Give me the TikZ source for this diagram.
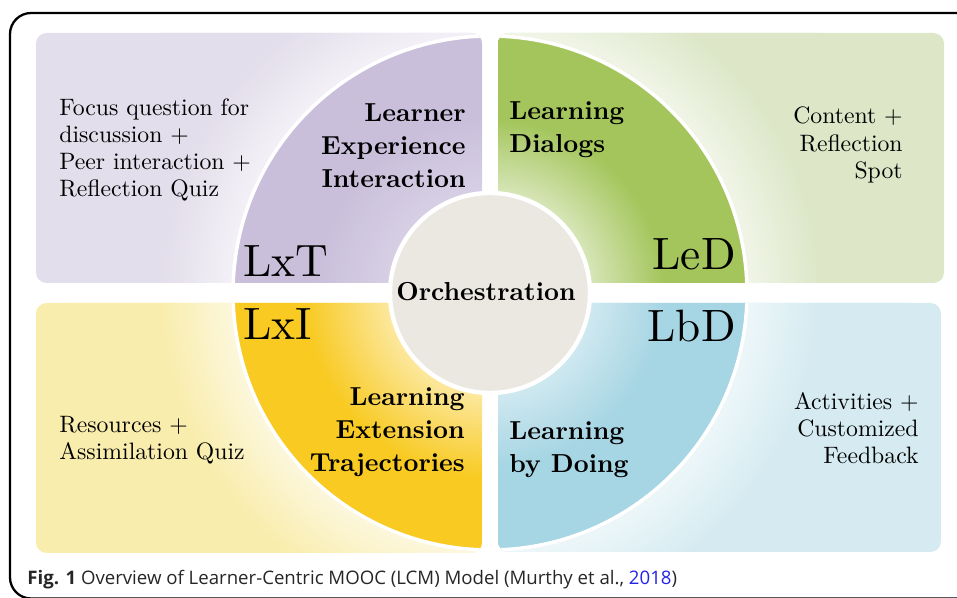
\documentclass[tikz,border=0pt]{standalone}
\usepackage{fontspec}
\setmainfont{lmroman10-regular.otf}[BoldFont=lmroman10-bold.otf]
\newfontfamily\capfont{Open Sans}
\definecolor{lxtpanel}{HTML}{E3DEEB}
\definecolor{lxtring}{HTML}{C9BFDB}
\definecolor{ledpanel}{HTML}{DDE7C8}
\definecolor{ledring}{HTML}{A3C55B}
\definecolor{lxipanel}{HTML}{F9EDAE}
\definecolor{lxiring}{HTML}{F8CA22}
\definecolor{lbdpanel}{HTML}{D5EBF1}
\definecolor{lbdring}{HTML}{A6D5E3}
\definecolor{orchfill}{HTML}{EBE8E2}
\definecolor{reflink}{HTML}{2424E8}
\pgfdeclareradialshading{lxtshade}{\pgfpoint{0bp}{0bp}}{color(0bp)=(lxtring!70!white); color(10bp)=(lxtring!75!white); color(17bp)=(lxtring); color(25bp)=(lxtring); color(50bp)=(lxtring)}
\pgfdeclareradialshading{ledshade}{\pgfpoint{0bp}{0bp}}{color(0bp)=(ledring!40!white); color(10bp)=(ledring!45!white); color(17bp)=(ledring); color(25bp)=(ledring); color(50bp)=(ledring)}
\pgfdeclareradialshading{lxishade}{\pgfpoint{0bp}{0bp}}{color(0bp)=(lxiring!40!white); color(10bp)=(lxiring!45!white); color(18bp)=(lxiring); color(25bp)=(lxiring); color(50bp)=(lxiring)}
\pgfdeclareradialshading{lbdshade}{\pgfpoint{0bp}{0bp}}{color(0bp)=(lbdring!50!white); color(10bp)=(lbdring!55!white); color(17bp)=(lbdring); color(25bp)=(lbdring); color(50bp)=(lbdring)}
\pgfdeclareradialshading{lxtglow}{\pgfpoint{0bp}{0bp}}{color(0bp)=(lxtpanel!40!white); color(15.5bp)=(lxtpanel!45!white); color(19.5bp)=(lxtpanel); color(25bp)=(lxtpanel); color(50bp)=(lxtpanel)}
\pgfdeclareradialshading{ledglow}{\pgfpoint{0bp}{0bp}}{color(0bp)=(ledpanel!40!white); color(15.5bp)=(ledpanel!45!white); color(19.5bp)=(ledpanel); color(25bp)=(ledpanel); color(50bp)=(ledpanel)}
\pgfdeclareradialshading{lxiglow}{\pgfpoint{0bp}{0bp}}{color(0bp)=(lxipanel!40!white); color(15.5bp)=(lxipanel!45!white); color(19.5bp)=(lxipanel); color(25bp)=(lxipanel); color(50bp)=(lxipanel)}
\pgfdeclareradialshading{lbdglow}{\pgfpoint{0bp}{0bp}}{color(0bp)=(lbdpanel!40!white); color(15.5bp)=(lbdpanel!45!white); color(19.5bp)=(lbdpanel); color(25bp)=(lbdpanel); color(50bp)=(lbdpanel)}
\begin{document}
\begin{tikzpicture}[x=0.02cm,y=0.02cm,
  body/.style={font=\fontsize{13.5}{15.4}\selectfont, inner sep=0pt},
  title/.style={font=\fontsize{14.8}{18.8}\selectfont\bfseries, inner sep=0pt},
  tag/.style={font=\fontsize{25.8}{28}\selectfont, inner sep=0pt},
  panel/.style={rounded corners=6}]
\useasboundingbox (0,0) rectangle (957,598);
\clip (0,0) rectangle (957,598);
\draw[line width=1.3, rounded corners=12] (10,-0.5) rectangle (990,585);

\coordinate (c) at (490,305);

\fill[lxtpanel, panel] (36,315) rectangle (482,565);
\begin{scope}
\clip[panel] (36,315) rectangle (482,565);
\shade[shading=lxtglow] (c) circle (420);
\shade[shading=lxtshade] (c) circle (257);
\draw[white, line width=2] (c) circle (257);
\end{scope}

\fill[ledpanel, panel] (498,315) rectangle (944,565);
\begin{scope}
\clip[panel] (498,315) rectangle (944,565);
\shade[shading=ledglow] (c) circle (420);
\shade[shading=ledshade] (c) circle (257);
\draw[white, line width=2] (c) circle (257);
\end{scope}

\fill[lxipanel, panel] (36,45) rectangle (482,295);
\begin{scope}
\clip[panel] (36,45) rectangle (482,295);
\shade[shading=lxiglow] (c) circle (420);
\shade[shading=lxishade] (c) circle (257);
\draw[white, line width=2] (c) circle (257);
\end{scope}

\fill[lbdpanel, panel] (498,46) rectangle (941,295);
\begin{scope}
\clip[panel] (498,46) rectangle (941,295);
\shade[shading=lbdglow] (c) circle (420);
\shade[shading=lbdshade] (c) circle (257);
\draw[white, line width=2] (c) circle (257);
\end{scope}

\filldraw[orchfill, draw=white, line width=2.5] (c) circle (100);
\node[title] (orch) at (486,306) {Orchestration};

\node[body, anchor=west, align=left] (lxtbody) at (59,448) {Focus question for\\discussion +\\Peer interaction +\\Reflection Quiz};
\node[title, anchor=east, align=right] (lxttitle) at (466,452) {Learner\\Experience\\Interaction};
\node[tag, anchor=base west] (lxt) at (243,321) {LxT};

\node[title, anchor=west, align=left] (ledtitle) at (509,468) {Learning\\Dialogs};
\node[tag, anchor=base east] (led) at (736,328) {LeD};
\node[body, anchor=east, align=right] (ledbody) at (903,453) {Content +\\Reflection\\Spot};

\node[tag, anchor=base west] (lxi) at (243,258) {LxI};
\node[title, anchor=east, align=right] (lxititle) at (465,166) {Learning\\Extension\\Trajectories};
\node[body, anchor=west, align=left] (lxibody) at (59,158) {Resources +\\Assimilation Quiz};

\node[tag, anchor=base east] (lbd) at (736,256) {LbD};
\node[title, anchor=west, align=left] (lbdtitle) at (509,148) {Learning\\by Doing};
\node[body, anchor=east, align=right] (lbdbody) at (919,170) {Activities +\\Customized\\Feedback};

\node[anchor=base west, inner sep=0pt, font=\capfont\fontsize{10.6}{13}\selectfont, text=black!85] (caption) at (27,13)
  {\textbf{Fig. 1} Overview of Learner-Centric MOOC (LCM) Model (Murthy et al., \textcolor{reflink}{2018})};
\end{tikzpicture}
\end{document}
